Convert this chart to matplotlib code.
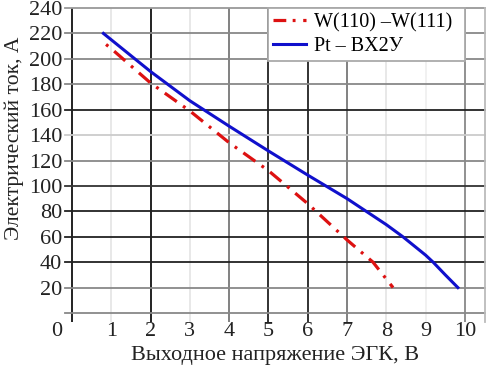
import matplotlib
matplotlib.use("Agg")
import matplotlib.pyplot as plt
import numpy as np
from matplotlib.lines import Line2D
from matplotlib.transforms import blended_transform_factory

plt.rcParams['font.family'] = ['Liberation Serif', 'DejaVu Serif']

# Data
w_x = [0.8, 1.0, 2.0, 3.0, 4.0, 5.0, 6.0, 7.0, 7.66, 8.17]
w_y = [213, 208, 181, 159, 134, 112, 86, 57.5, 40, 20]
pt_x = [0.8, 1.0, 2.0, 3.0, 4.0, 5.0, 6.0, 7.0, 8.0, 8.42, 9.0, 9.19, 9.5, 9.82]
pt_y = [220, 215, 190, 167, 147, 127.5, 108.5, 90, 69.5, 60, 45.5, 40, 30, 20]
x_ticks = [1, 2, 3, 4, 5, 6, 7, 8, 9, 10]
y_ticks = [20, 40, 60, 80, 100, 120, 140, 160, 180, 200, 220, 240]
label_w = "W(110) –W(111)"
label_pt = "Pt – BX2У"
xlabel = "Выходное напряжение ЭГК, В"
ylabel = "Электрический ток, А"

# grid line styles (x = 0..10, y = 0..240)
vcolors = ['#111111', '#e6e6e6', '#111111', '#e6e6e6', '#777777', '#222222',
           '#222222', '#777777', '#e6e6e6', '#f0f0f0', '#888888']
hcolors = ['#888888', '#888888', '#222222', '#222222', '#222222', '#333333',
           '#888888', '#cccccc', '#222222', '#888888', '#888888', '#888888', '#999999']

W, H = 493, 373
fig = plt.figure(figsize=(W / 100, H / 100), dpi=100)
left, right, top, bottom = 64.9, 484.6, 8.0, 321.9
ax = fig.add_axes([left / W, 1 - bottom / H, (right - left) / W, (bottom - top) / H])
ax.set_xlim(-0.18, 10.5)
ax.set_ylim(-7, 240)

for i, c in enumerate(vcolors):
    ax.axvline(i, color=c, lw=1.3, zorder=1)
for j, c in enumerate(hcolors):
    ax.axhline(j * 20, color=c, lw=1.3, zorder=1, clip_on=False)

for s in ['left', 'bottom', 'top']:
    ax.spines[s].set_visible(False)
ax.spines['right'].set_color('#bbbbbb')
ax.spines['right'].set_linewidth(1.3)

# dash pattern offset so the red curve ends inside a dash
red, blue = '#dd1111', '#1010cc'
lw_red = 2.3
dash = (4.6, 2.4, 0.9, 2.4)
period = sum(dash) * lw_red
pix = ax.transData.transform(np.column_stack([w_x, w_y]))
length_pt = np.sum(np.hypot(*np.diff(pix, axis=0).T)) * 72 / fig.dpi
offset = (2.6 * lw_red - length_pt) % period
ax.plot(w_x, w_y, color=red, lw=lw_red, linestyle=(offset, dash),
        zorder=3, dash_capstyle='butt')
ax.plot(pt_x, pt_y, color=blue, lw=2.2, zorder=3)

ax.set_xticks(x_ticks)
ax.set_yticks(y_ticks)
ax.tick_params(length=0, labelsize=16, colors='#222222')
ax.tick_params(axis='y', pad=2)
ax.tick_params(axis='x', pad=0)
tr = blended_transform_factory(ax.transData, ax.transAxes)
ax.text(-0.38, 0.0, "0", fontsize=16, color='#222222', ha='center', va='top',
        transform=tr)

ax.set_xlabel(xlabel, fontsize=16, color='#222222')
ax.set_ylabel(ylabel, fontsize=15.5, color='#222222')
ax.xaxis.set_label_coords(0.5, -0.0755)
ax.yaxis.set_label_coords(-0.097, 0.586)

handles = [Line2D([], [], color=red, lw=lw_red, linestyle=(0, (4.0, 2.0, 0.9, 2.4)),
                  dash_capstyle='butt'),
           Line2D([], [], color=blue, lw=2.2)]
leg = ax.legend(handles, [label_w, label_pt], loc='upper left',
                bbox_to_anchor=(5, 0, 5, 240),
                bbox_transform=ax.transData, mode='expand', borderaxespad=0,
                fontsize=14.5, fancybox=False, framealpha=1, edgecolor='#aaaaaa',
                handlelength=1.6, handletextpad=0.4, labelspacing=0.25,
                borderpad=0.25)
leg.get_frame().set_linewidth(1.3)
leg.set_zorder(5)

fig.savefig("out.png", dpi=100)
